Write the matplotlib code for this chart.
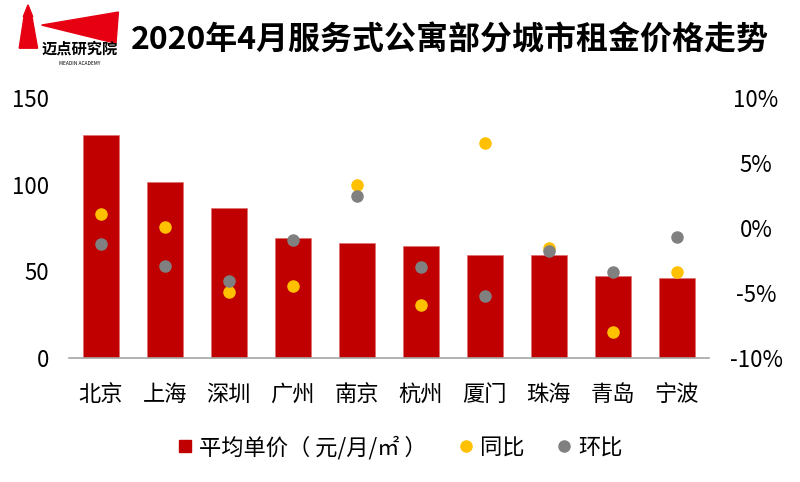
import numpy as np
import matplotlib.pyplot as plt
from matplotlib.patches import Polygon
from matplotlib.lines import Line2D
from matplotlib.ticker import FuncFormatter

plt.rcParams['font.family'] = ['Noto Sans CJK SC', 'DejaVu Sans']
plt.rcParams['axes.unicode_minus'] = False

# 数据
cities = ['北京', '上海', '深圳', '广州', '南京', '杭州', '厦门', '珠海', '青岛', '宁波']
price = [128.5, 101.5, 86.4, 69.0, 66.2, 64.6, 59.2, 59.3, 47.3, 46.3]
yoy = [1.05, 0.1, -4.9, -4.45, 3.3, -5.9, 6.5, -1.5, -8.0, -3.4]   # 同比 %
mom = [-1.25, -2.9, -4.05, -0.95, 2.45, -3.0, -5.2, -1.8, -3.35, -0.7]  # 环比 %

red = '#C00000'
yellow = '#FFC000'
gray = '#808080'

fig = plt.figure(figsize=(8, 4.82), dpi=100)
ax = fig.add_axes([0.086, 0.257, 0.8, 0.54])
x = np.arange(len(cities))
ax.bar(x, price, width=0.57, color=red, edgecolor='#E07070', linewidth=0.5, zorder=2)
ax.set_xlim(-0.5, len(cities) - 0.5)
ax.set_ylim(0, 150)
ax.set_yticks([0, 50, 100, 150])
ax.set_xticks(x)
ax.set_xticklabels(cities, fontsize=16)
ax.tick_params(axis='x', length=0, labelsize=16, pad=18)
ax.tick_params(axis='y', length=0, labelsize=16, pad=14)
for s in ['top', 'left', 'right']:
    ax.spines[s].set_visible(False)
ax.spines['bottom'].set_color('#A6A6A6')
ax.spines['bottom'].set_linewidth(1.2)

ax2 = ax.twinx()
ax2.set_ylim(-10, 10)
ax2.set_yticks([-10, -5, 0, 5, 10])
ax2.yaxis.set_major_formatter(FuncFormatter(lambda v, p: '%d%%' % v))
ax2.tick_params(axis='y', length=0, labelsize=16, pad=34)
for lbl in ax2.get_yticklabels():
    lbl.set_horizontalalignment('center')
for s in ['top', 'left', 'right', 'bottom']:
    ax2.spines[s].set_visible(False)
ax2.scatter(x, yoy, s=64, color=yellow, zorder=3)
ax2.scatter(x, mom, s=64, color=gray, zorder=4)

# 标题
fig.text(0.163, 0.915, '2020年4月服务式公寓部分城市租金价格走势', fontsize=23,
         fontweight='bold', va='center', ha='left')

# 标志
fig.patches.append(Polygon([[0.024, 0.900], [0.030, 0.965], [0.040, 0.965], [0.047, 0.900]],
                           closed=True, transform=fig.transFigure, color='#E60012'))
fig.patches.append(Polygon([[0.029, 0.965], [0.035, 0.990], [0.041, 0.965]],
                           closed=True, transform=fig.transFigure, color='#E60012'))
fig.patches.append(Polygon([[0.052, 0.948], [0.148, 0.975], [0.145, 0.91]],
                           closed=True, transform=fig.transFigure, color='#E60012'))
fig.text(0.099, 0.900, '迈点研究院', fontsize=11, fontweight='bold', ha='center', va='center')
fig.text(0.099, 0.868, 'MEADIN ACADEMY', fontsize=3.5, ha='center', va='center')

# 图例
handles = [Line2D([], [], marker='s', linestyle='', color=red, markersize=9),
           Line2D([], [], marker='o', linestyle='', color=yellow, markersize=8),
           Line2D([], [], marker='o', linestyle='', color=gray, markersize=8)]
labels = ['平均单价（ 元/月/㎡ ）', '同比', '环比']
fig.legend(handles, labels, loc='center', bbox_to_anchor=(0.5, 0.072), ncol=3,
           frameon=False, fontsize=16, handlelength=0.7, handletextpad=0.3,
           columnspacing=1.4)

fig.savefig('out.png', dpi=100)
